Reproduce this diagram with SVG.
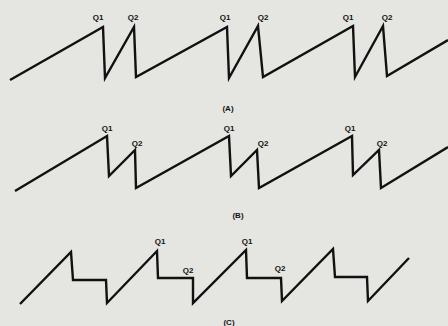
<svg xmlns="http://www.w3.org/2000/svg" width="448" height="326" viewBox="0 0 448 326">
<style>
.w{fill:none;stroke:#111;stroke-width:2.4;stroke-linejoin:miter;stroke-linecap:butt}
.q{font-family:"Liberation Sans",Arial,sans-serif;font-size:8px;font-weight:bold;fill:#111;text-anchor:middle}
.c{font-family:"Liberation Sans",Arial,sans-serif;font-size:8px;font-weight:bold;fill:#111;text-anchor:middle}
</style>
<rect width="448" height="326" fill="#e5e5e2"/>
<g id="connectors">
<path id="waveA" class="w" d="M10,80 L103,27 L105,78 L134,27 L136,77 L227,27 L229,78 L258,26 L263,77 L353,26 L355,77 L383,26 L387,76 L448,40"/>
<path id="waveB" class="w" d="M15,191 L107,136 L109,176 L135,150 L136,188 L229,136 L231,176 L257,150 L259,188 L352,136 L353,175 L379,150 L381,188 L448,147"/>
<path id="waveC" class="w" d="M20,304 L71,252 L73,280 L106,280 L107,303 L157,251 L158,278 L193,278 L193,303 L246,250 L247,278 L281,278 L282,301 L333,249 L335,277 L367,277 L368,301 L409,258"/>
</g>
<g id="labelsA">
<text class="q" x="98" y="20">Q1</text><text class="q" x="133" y="20">Q2</text>
<text class="q" x="225" y="20">Q1</text><text class="q" x="263" y="20">Q2</text>
<text class="q" x="348" y="20">Q1</text><text class="q" x="387" y="20">Q2</text>
<text class="c" x="228" y="111">(A)</text>
</g>
<g id="labelsB">
<text class="q" x="107" y="131">Q1</text><text class="q" x="137" y="146">Q2</text>
<text class="q" x="229" y="131">Q1</text><text class="q" x="263" y="146">Q2</text>
<text class="q" x="350" y="131">Q1</text><text class="q" x="382" y="146">Q2</text>
<text class="c" x="238" y="218">(B)</text>
</g>
<g id="labelsC">
<text class="q" x="160" y="244">Q1</text><text class="q" x="188" y="273">Q2</text>
<text class="q" x="247" y="244">Q1</text><text class="q" x="280" y="271">Q2</text>
<text class="c" x="229" y="325">(C)</text>
</g>
</svg>
